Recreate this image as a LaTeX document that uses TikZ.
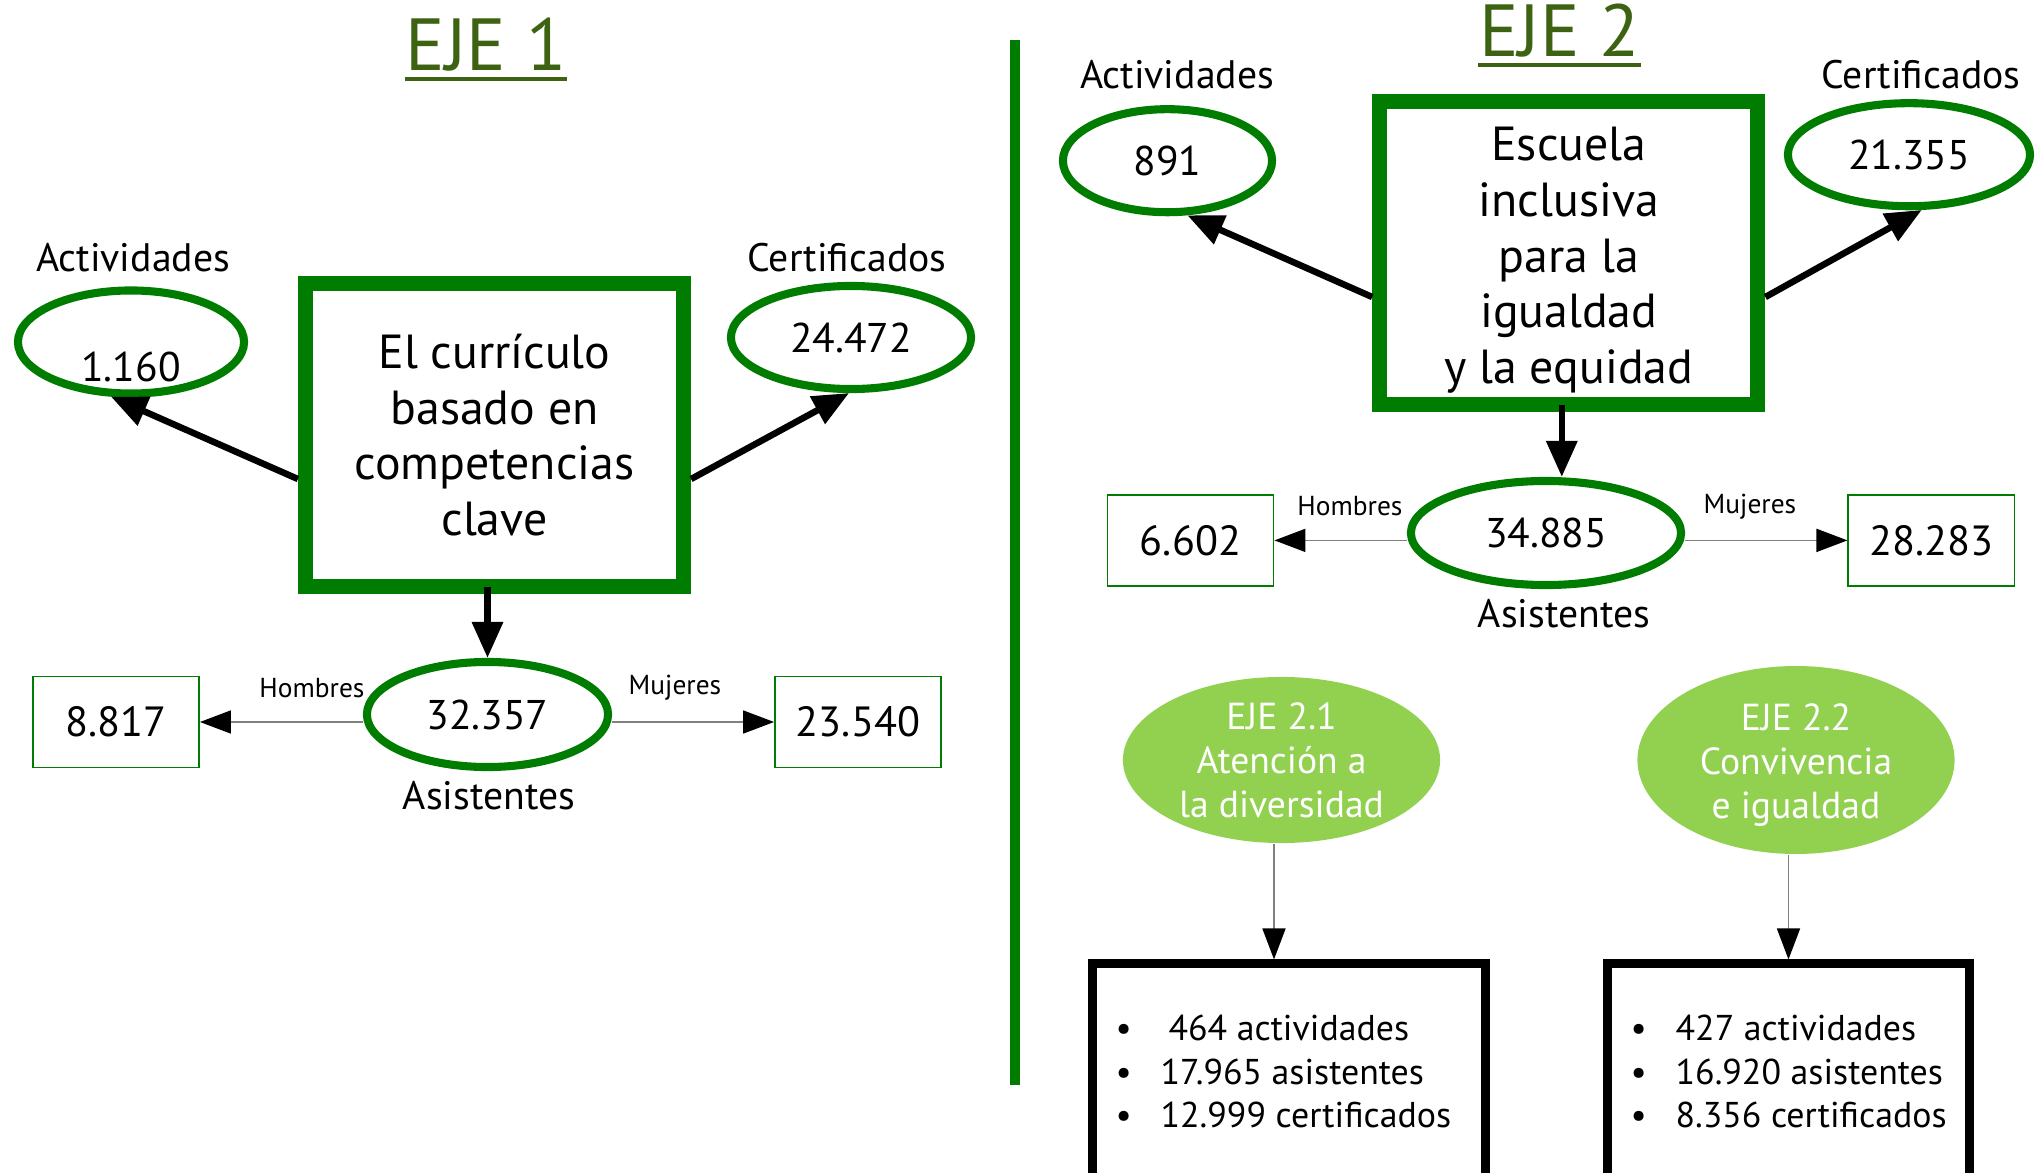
\documentclass[tikz,border=0pt]{standalone}
\usepackage{fontspec}
\setmainfont{PT Sans}
\usetikzlibrary{shapes.geometric,arrows.meta}
\definecolor{EjeBorde}{RGB}{0,125,0}
\definecolor{EjeTitulo}{RGB}{61,99,18}
\definecolor{EjeRelleno}{RGB}{146,208,80}
\definecolor{EjeGris}{RGB}{128,128,128}
\newcommand\itm[1]{\makebox[0.45cm][l]{\textbullet}#1}

\begin{document}
\begin{tikzpicture}[x=0.01cm,y=-0.01cm,
  titulo/.style={text=EjeTitulo,anchor=base,inner sep=0pt,font=\fontsize{21}{25}\selectfont},
  subr/.style={draw=EjeTitulo,line width=1.4pt},
  eje/.style={draw=EjeBorde,line width=4.25pt,minimum width=3.78cm,minimum height=3.02cm,align=center,inner sep=0pt,font=\fontsize{13.6}{15.8}\selectfont},
  dato/.style={ellipse,draw=EjeBorde,line width=2.3pt,minimum height=1.03cm,inner sep=0pt,font=\fontsize{11.8}{14}\selectfont},
  num/.style={inner sep=0pt,font=\fontsize{11.8}{14}\selectfont},
  etiq/.style={inner sep=0pt,font=\fontsize{11.3}{13}\selectfont},
  caja/.style={draw=EjeBorde,line width=0.5pt,minimum width=1.66cm,minimum height=0.91cm,font=\fontsize{12}{14}\selectfont},
  sexo/.style={inner sep=0pt,font=\fontsize{7.8}{9}\selectfont},
  flecha/.style={line width=1.85pt,-{Triangle[length=0.36cm,width=0.3cm]}},
  fina/.style={draw=EjeGris,line width=0.5pt,-{Triangle[length=0.31cm,width=0.23cm,color=black]}},
  sub/.style={ellipse,fill=EjeRelleno,text=white,minimum width=3.17cm,minimum height=1.66cm,align=center,inner sep=0pt,font=\fontsize{10.7}{12.5}\selectfont},
  lista/.style={draw,line width=2.55pt,minimum height=2.96cm},
  items/.style={anchor=north west,align=left,inner sep=0pt,font=\fontsize{10.2}{12.4}\selectfont},
]
\useasboundingbox (0,0) rectangle (2044,1173);
\clip (0,0) rectangle (2044,1173);

% EJE 1
\node[titulo] (eje1) at (486,71) {EJE 1};
\draw[subr] ([yshift=-0.08cm]eje1.base west) -- ([yshift=-0.08cm]eje1.base east);
\node[eje] (cur) at (494.5,435) {El currículo\\basado en\\competencias\\clave};
\node[etiq] (act1t) at (133,258) {Actividades};
\node[dato,minimum width=2.26cm] (act1) at (131,342) {};
\node[num] (act1v) at ([yshift=-0.25cm]act1.center) {1.160};
\node[etiq] (cert1t) at (847,258) {Certificados};
\node[dato,minimum width=2.40cm] (cert1) at (851,337.5) {24.472};
\node[dato,minimum width=2.41cm,minimum height=1.05cm] (asis1) at (487.5,714.5) {32.357};
\node[etiq] (asis1t) at (489,796) {Asistentes};
\node[caja] (hom1) at (116,722) {8.817};
\node[caja] (muj1) at (858,722) {23.540};
\node[sexo] (hom1t) at (312,688) {Hombres};
\node[sexo] (muj1t) at (675,688) {Mujeres};
\draw[flecha] ([yshift=-0.44cm]cur.west) -- (act1.250);
\draw[flecha] ([yshift=-0.44cm]cur.east) -- (cert1.268);
\draw[flecha] ([xshift=-0.07cm,yshift=0.07cm]cur.south) -- ([xshift=-0.07cm]cur.south |- asis1.north);
\draw[fina] (asis1.west |- hom1) -- (hom1);
\draw[fina] (asis1.east |- muj1) -- (muj1);

\draw[EjeBorde,line width=2.85pt] (1015,40) -- (1015,1085);

% EJE 2
\node[titulo] (eje2) at (1559.5,57) {EJE 2};
\draw[subr] ([yshift=-0.08cm]eje2.base west) -- ([yshift=-0.08cm]eje2.base east);
\node[eje] (esc) at (1568.8,253) {\rule{0pt}{0.48cm}Escuela\\inclusiva\\para la\\igualdad\\y la equidad};
\node[etiq] (act2t) at (1177,75) {Actividades};
\node[dato,minimum width=2.09cm] (act2) at (1167.5,160.7) {891};
\node[etiq] (cert2t) at (1921,75) {Certificados};
\node[dato,minimum width=2.42cm] (cert2) at (1909,154.7) {21.355};
\node[dato,minimum width=2.70cm,minimum height=1.04cm] (asis2) at (1546,533) {34.885};
\node[etiq] (asis2t) at (1564,614) {Asistentes};
\node[caja] (hom2) at (1190.5,540.4) {6.602};
\node[caja] (muj2) at (1931.4,540.4) {28.283};
\node[sexo] (hom2t) at (1350,506) {Hombres};
\node[sexo] (muj2t) at (1750,507) {Mujeres};
\draw[flecha] ([yshift=-0.44cm]esc.west) -- (act2.290);
\draw[flecha] ([yshift=-0.44cm]esc.east) -- (cert2.283);
\draw[flecha] ([xshift=-0.07cm,yshift=0.07cm]esc.south) -- ([xshift=-0.07cm]esc.south |- asis2.north);
\draw[fina] (asis2.west |- hom2) -- (hom2);
\draw[fina] (asis2.east |- muj2) -- (muj2);

\node[sub] (sub1) at (1281.5,760) {EJE 2.1\\Atención a\\la diversidad};
\node[sub] (sub2) at (1796,760) {\rule{0pt}{0.37cm}EJE 2.2\\Convivencia\\e igualdad};
\node[lista,minimum width=3.92cm] (lis1) at (1289,1112) {};
\node[lista,minimum width=3.62cm] (lis2) at (1788.5,1112) {};
\node[items] (lis1t) at ([xshift=0.265cm,yshift=-0.55cm]lis1.north west)
   {\itm{\hspace{0.08cm}464 actividades}\\\itm{17.965 asistentes}\\\itm{12.999 certificados}};
\node[items] (lis2t) at ([xshift=0.27cm,yshift=-0.55cm]lis2.north west)
   {\itm{427 actividades}\\\itm{16.920 asistentes}\\\itm{8.356 certificados}};
\foreach \s/\l in {sub1/lis1,sub2/lis2} {
   \draw[fina] ([xshift=-0.075cm]\s.south) -- ([xshift=-0.075cm]\s.south |- \l.north);
}
\end{tikzpicture}
\end{document}
